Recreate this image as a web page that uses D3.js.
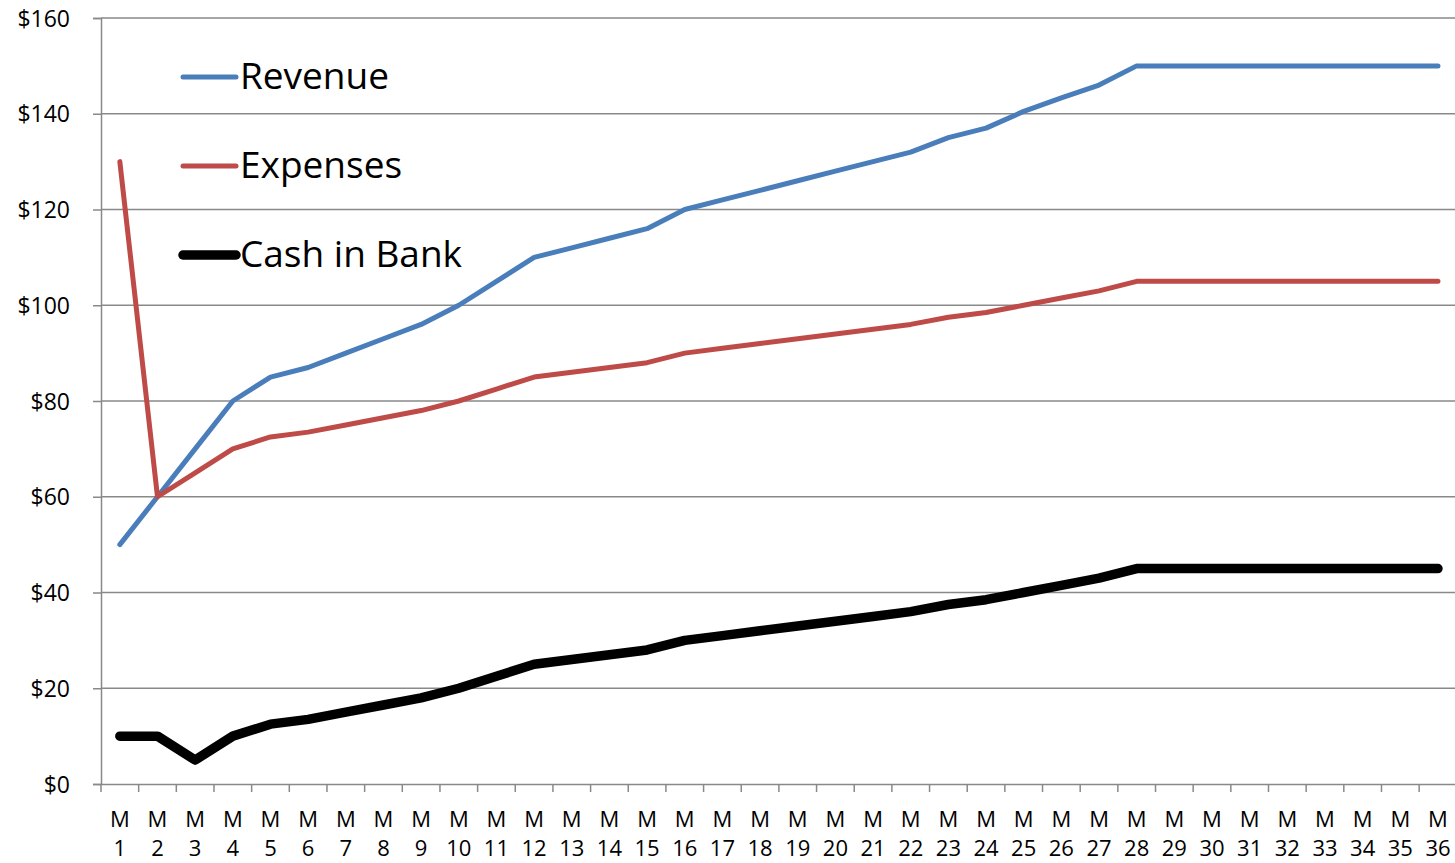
<!DOCTYPE html>
<html><head><meta charset="utf-8">
<script src="https://cdn.jsdelivr.net/npm/d3@7"></script>
<style>
html,body{margin:0;padding:0;background:#fff;}
svg{display:block;font-family:"Open Sans",sans-serif;}
</style></head>
<body>
<svg id="c" width="1455" height="863"></svg>
<script>
const months = d3.range(1, 37).map(i => "M " + i);
const revenue = [50,60,70,80,85,87,90,93,96,100,105,110,112,114,116,120,122,124,126,128,130,132,135,137,140.5,143.3,146,150,150,150,150,150,150,150,150,150];
const expenses = [130,60,65,70,72.5,73.5,75,76.5,78,80,82.5,85,86,87,88,90,91,92,93,94,95,96,97.5,98.5,100,101.5,103,105,105,105,105,105,105,105,105,105];
const cash = [10,10,5,10,12.5,13.5,15,16.5,18,20,22.5,25,26,27,28,30,31,32,33,34,35,36,37.5,38.5,40,41.5,43,45,45,45,45,45,45,45,45,45];
const yTicks = [0,20,40,60,80,100,120,140,160];
const seriesNames = ["Revenue","Expenses","Cash in Bank"];
const seriesColors = ["#4A7EBB","#BE4B48","#000000"];
const seriesWidths = [5,5,9.5];

const svg = d3.select("#c");
const x = d3.scaleBand().domain(months).range([101, 1456.8]).padding(0);
const y = d3.scaleLinear().domain([0,160]).range([784, 18]);
const gridColor = "#898989";

// y axis
const ya = svg.append("g").attr("transform","translate(101,0)")
  .call(d3.axisLeft(y).tickValues(yTicks).tickSize(8).tickPadding(23).tickFormat(d => "$" + d));
ya.select(".domain").attr("stroke", gridColor).attr("stroke-width",1.5);
ya.selectAll(".tick line").attr("stroke", gridColor).attr("stroke-width",1.5);
ya.selectAll("text").attr("font-size",23).attr("fill","#000").attr("dy","0.35em")
  .attr("font-family","'Open Sans',sans-serif");

// gridlines
svg.append("g").selectAll("line").data(yTicks.filter(d=>d>0)).join("line")
  .attr("x1",101).attr("x2",1455).attr("y1",d=>y(d)).attr("y2",d=>y(d))
  .attr("stroke",gridColor).attr("stroke-width",1.5);

// x axis
const xa = svg.append("g").attr("transform","translate(0,784)")
  .call(d3.axisBottom(x).tickSize(0).tickFormat(""));
xa.select(".domain").attr("stroke", gridColor).attr("stroke-width",1.5);
xa.selectAll(".tick").each(function(d){
  const g = d3.select(this);
  g.append("line").attr("x1",-x.bandwidth()/2).attr("x2",-x.bandwidth()/2).attr("y1",0).attr("y2",8)
    .attr("stroke",gridColor).attr("stroke-width",1.5);
  const parts = d.split(" ");
  const t = g.append("text").attr("text-anchor","middle").attr("font-size",22).attr("fill","#000")
    .attr("font-family","'Open Sans',sans-serif");
  t.append("tspan").attr("x",0).attr("y",43).text(parts[0]);
  t.append("tspan").attr("x",0).attr("y",72).text(parts[1]);
});

// lines
const data = [revenue, expenses, cash];
const line = d3.line().x((d,i)=>x(months[i]) + x.bandwidth()/2).y(d=>y(d));
data.forEach((s,k)=>{
  svg.append("path").datum(s).attr("d",line).attr("fill","none")
    .attr("stroke",seriesColors[k]).attr("stroke-width",seriesWidths[k])
    .attr("stroke-linejoin","round").attr("stroke-linecap","round");
});

// legend
const legY = [77, 166, 255];
seriesNames.forEach((n,k)=>{
  svg.append("line").attr("x1",183).attr("x2",236).attr("y1",legY[k]).attr("y2",legY[k])
    .attr("stroke",seriesColors[k]).attr("stroke-width",seriesWidths[k]).attr("stroke-linecap","round");
  svg.append("text").attr("x",240).attr("y",legY[k]+12).attr("font-size",37).attr("fill","#000")
    .attr("font-family","'Open Sans',sans-serif").text(n);
});
</script>
</body></html>
